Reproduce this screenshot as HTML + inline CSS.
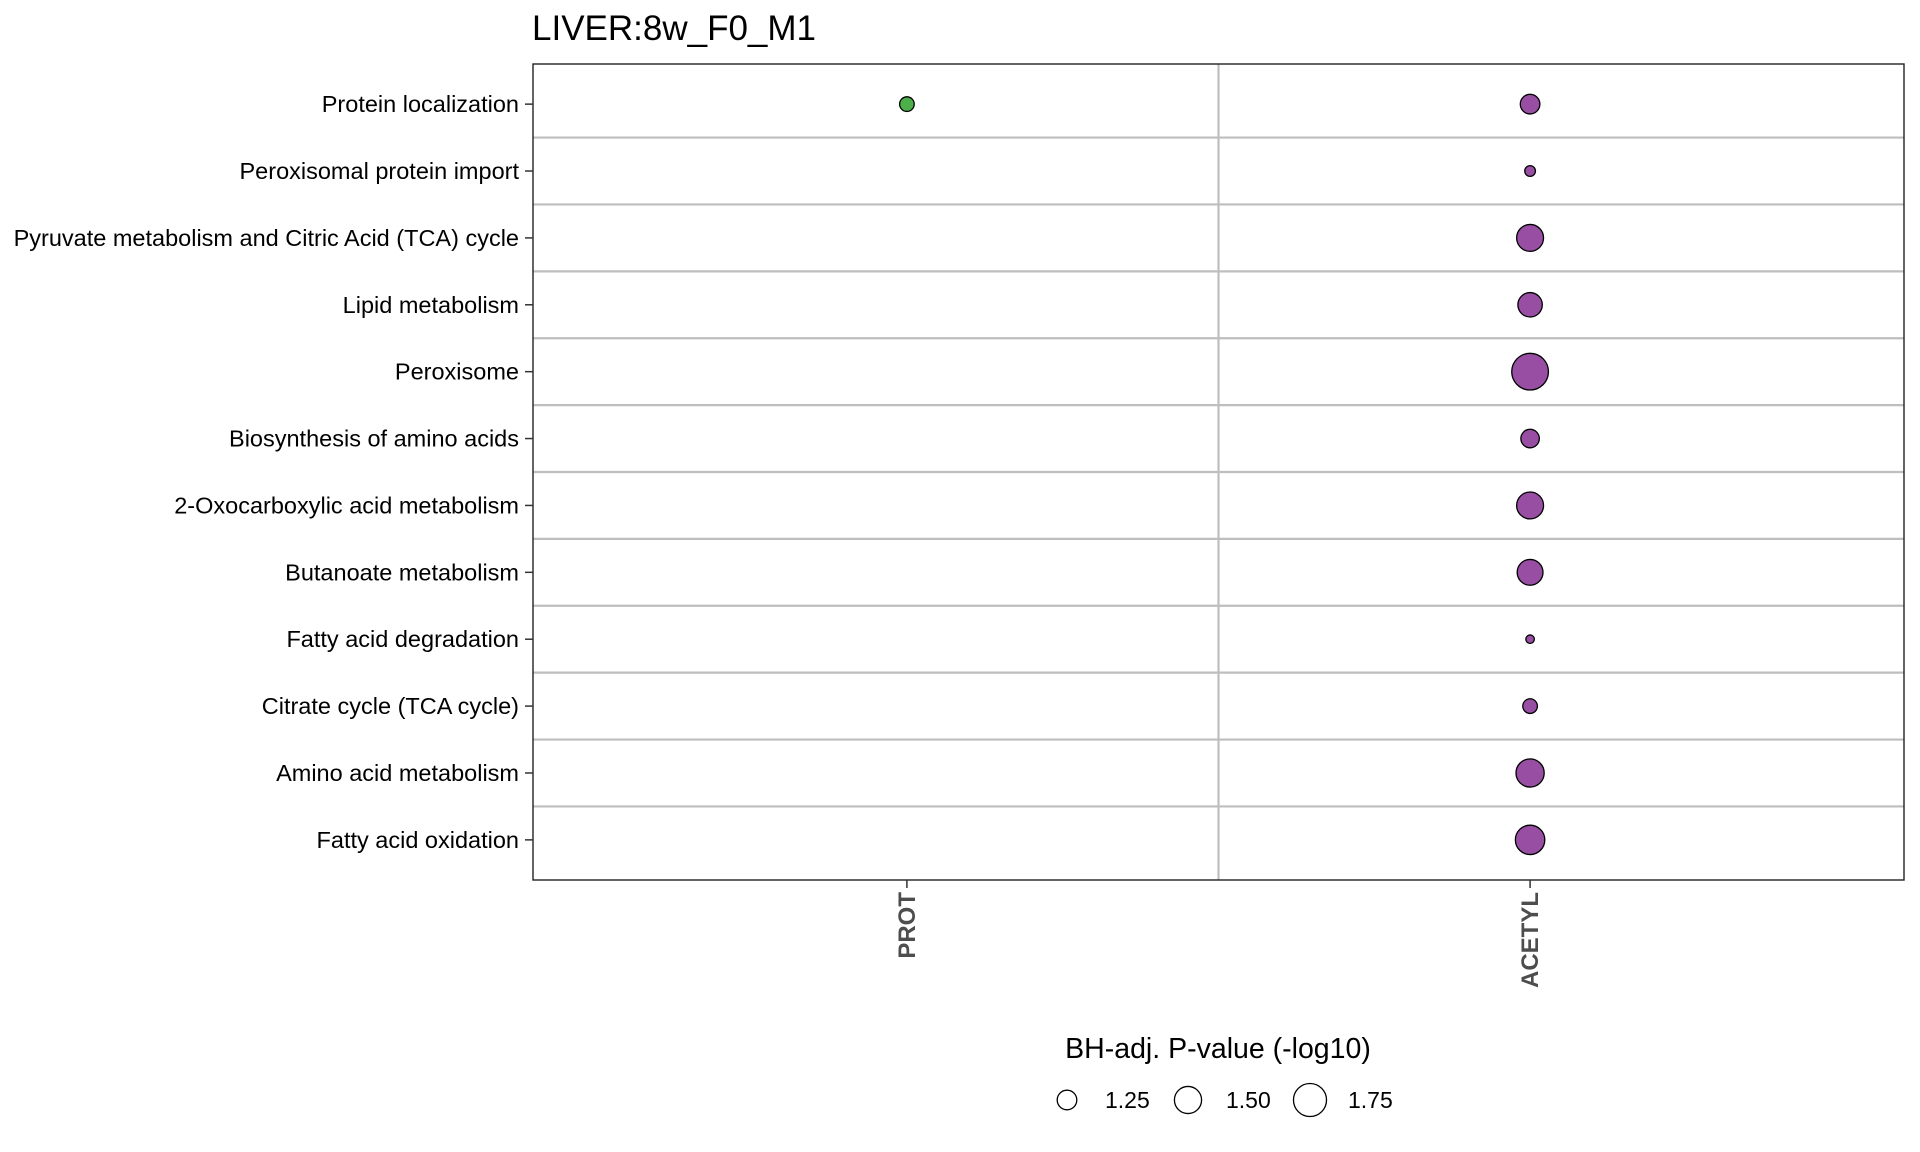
<!DOCTYPE html>
<html><head><meta charset="utf-8"><style>
body{margin:0;background:#fff;}
svg{display:block;font-family:"Liberation Sans",Arial,sans-serif;}
</style></head><body>
<svg id="chart" width="1920" height="1152" viewBox="0 0 1920 1152">
<text x="532" y="40" font-size="35" fill="#000">LIVER:8w_F0_M1</text>
<g id="grid"></g>
<g id="marks"></g>
<rect x="533" y="64" width="1371" height="816" fill="none" stroke="#222" stroke-width="1.4"/>
<g id="axes"></g>
<g id="legend">
<text x="1218" y="1058" font-size="28.5" text-anchor="middle" fill="#000">BH-adj. P-value (-log10)</text>
</g>
</svg>
<script>
const categories = ["Protein localization","Peroxisomal protein import","Pyruvate metabolism and Citric Acid (TCA) cycle","Lipid metabolism","Peroxisome","Biosynthesis of amino acids","2-Oxocarboxylic acid metabolism","Butanoate metabolism","Fatty acid degradation","Citrate cycle (TCA cycle)","Amino acid metabolism","Fatty acid oxidation"];
const groups = ["PROT","ACETYL"];
const protValues = [1.13,null,null,null,null,null,null,null,null,null,null,null];
const acetylValues = [1.25,1.06,1.49,1.40,1.93,1.22,1.49,1.45,1.03,1.13,1.54,1.59];
const legendValues = [1.25,1.50,1.75];
const legendLabels = ["1.25","1.50","1.75"];
const groupColors = ["#4DAF4A","#984EA3"];

const NS="http://www.w3.org/2000/svg";
const L=533,T=64,W=1371,H=816,S=1.2245;
function xs(i){return L+(i+0.6)/2.2*W;}
function ys(i){return T+(i+0.6)/12.2*H;}
function rs(v){return Math.sqrt(Math.max(64+236*(v-1.25),4))*S;}
function mk(tag,attrs,parent){const e=document.createElementNS(NS,tag);for(const k in attrs)e.setAttribute(k,attrs[k]);parent.appendChild(e);return e;}
const grid=document.getElementById('grid'),marks=document.getElementById('marks'),axes=document.getElementById('axes'),leg=document.getElementById('legend');
categories.forEach((c,i)=>{
  if(i<categories.length-1){
    const g=mk('line',{x1:L,x2:L+W,y1:ys(i+0.5),y2:ys(i+0.5),stroke:'#bebebe','stroke-width':2.2},grid);
    
    
  }
  const t=mk('line',{x1:L-8,x2:L,y1:ys(i),y2:ys(i),stroke:'#333','stroke-width':1.5},axes);
  
  
  const tx=mk('text',{x:L-14,y:ys(i)+8,'font-size':23.5,'text-anchor':'end',fill:'#000'},axes);
  tx.textContent=c;
  
  
});
groups.forEach((g,j)=>{
  if(j<groups.length-1){
    const gl=mk('line',{x1:xs(j+0.5),x2:xs(j+0.5),y1:T,y2:T+H,stroke:'#bebebe','stroke-width':2.2},grid);
    
    
  }
  const t=mk('line',{x1:xs(j),x2:xs(j),y1:T+H,y2:T+H+8,stroke:'#333','stroke-width':1.5},axes);
  
  
  const tx=mk('text',{x:0,y:0,'font-size':24,'font-weight':'bold','text-anchor':'end',fill:'#4d4d4d',transform:`translate(${xs(j)+8},${T+H+12}) rotate(-90)`},axes);
  tx.textContent=g;
  
  
});
[protValues,acetylValues].forEach((vals,j)=>{
  vals.forEach((v,i)=>{
    if(v==null)return;
    const c=mk('circle',{cx:xs(j),cy:ys(i),r:rs(v),fill:groupColors[j],stroke:'#000','stroke-width':1.3},marks);
    
    
  });
});
const lx=[1067,1188,1310];
legendValues.forEach((v,k)=>{
  const c=mk('circle',{cx:lx[k],cy:1100,r:rs(v),fill:'none',stroke:'#000','stroke-width':1.3},leg);
  
  
  const t=mk('text',{x:lx[k]+38,y:1108,'font-size':23,fill:'#000'},leg);
  t.textContent=legendLabels[k];
  
  
});
</script>
</body></html>
